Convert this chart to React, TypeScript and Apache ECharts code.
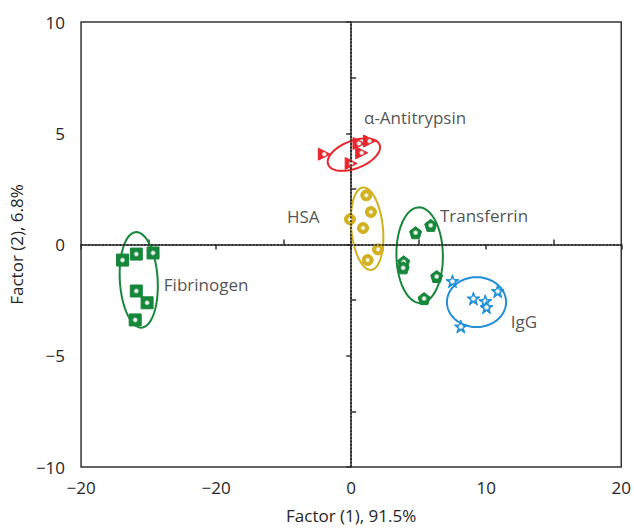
import React, { useEffect, useRef } from "react";
import * as echarts from "echarts";

// Tick labels (the original figure labels the −10 tick as "−20")
const xTickValues = [-20, -10, 0, 10, 20];
const xTickLabels = ["−20", "−20", "0", "10", "20"];
const yTickValues = [-10, -5, 0, 5, 10];
const yTickLabels = ["−10", "−5", "0", "5", "10"];
const xMinorTicks = [-15, -5, 5, 15];
const yMinorTicks = [-7.5, -2.5, 2.5, 7.5];

// Scores: [Factor 1, Factor 2]
const fibrinogen = [[-16.93, -0.7], [-15.91, -0.43], [-14.67, -0.38], [-15.91, -2.09], [-15.11, -2.62], [-15.99, -3.39]];
const antitrypsin = [[-1.99, 4.06], [0.58, 4.54], [1.36, 4.65], [0.78, 4.12], [0.0, 3.64]];
const hsa = [[1.12, 2.21], [1.46, 1.46], [-0.09, 1.13], [0.88, 0.74], [1.99, -0.22], [1.22, -0.7]];
const transferrin = [[4.77, 0.53], [5.89, 0.86], [3.89, -0.78], [3.85, -1.05], [6.33, -1.44], [5.4, -2.43]];
const igg = [[7.5, -1.65], [9.05, -2.43], [9.93, -2.55], [10.02, -2.82], [10.85, -2.1], [8.12, -3.69]];

// Confidence ellipses: [centre x, centre y, radius x, radius y, tilt in degrees]
const fibrinogenEllipse = [-15.73, -1.59, 1.4, 2.15, 3.4];
const antitrypsinEllipse = [0.2, 4.04, 2.04, 0.62, 21];
const hsaEllipse = [1.18, 0.71, 1.17, 1.86, 5.7];
const transferrinEllipse = [5.07, -0.48, 1.72, 2.15, 1];
const iggEllipse = [9.28, -2.59, 2.19, 1.12, 0];

// Group labels: [x, y, text, align]
const groupLabels: [number, number, string, string][] = [
  [0.95, 5.72, "α-Antitrypsin", "left"],
  [-2.34, 1.25, "HSA", "right"],
  [6.57, 1.32, "Transferrin", "left"],
  [-13.87, -1.82, "Fibrinogen", "left"],
  [11.82, -3.48, "IgG", "left"],
];

const GREEN = "#16873a";
const RED = "#e8262c";
const YELLOW = "#d2b01e";
const BLUE = "#1f8fd8";
const FONT = "'Open Sans', sans-serif";
const TEXT = "#262626";

const grad = (c: string) => ({
  type: "radial",
  x: 0.5,
  y: 0.5,
  r: 0.5,
  colorStops: [
    { offset: 0, color: "#ffffff" },
    { offset: 0.2, color: "#eef6ef" },
    { offset: 0.5, color: c },
    { offset: 1, color: c },
  ],
});

const PENTAGON = "path://M0,-10 L9.51,-3.09 L5.88,8.09 L-5.88,8.09 L-9.51,-3.09 Z";
const STAR =
  "path://M0,-10 L2.35,-3.24 L9.51,-3.09 L3.8,1.24 L5.88,8.09 L0,4 L-5.88,8.09 L-3.8,1.24 L-9.51,-3.09 L-2.35,-3.24 Z";

function ellipseSeries(e: number[], color: string) {
  return {
    type: "custom",
    data: [e],
    encode: { x: 0, y: 1 },
    silent: true,
    z: 1,
    renderItem: (_p: any, api: any) => {
      const c = api.coord([api.value(0), api.value(1)]);
      const s = api.size([api.value(2), api.value(3)]);
      const th = (api.value(4) * Math.PI) / 180;
      const pts: number[][] = [];
      for (let i = 0; i < 90; i++) {
        const t = (i / 90) * Math.PI * 2;
        const dx = s[0] * Math.cos(t);
        const dy = s[1] * Math.sin(t);
        pts.push([c[0] + dx * Math.cos(th) + dy * Math.sin(th), c[1] - dx * Math.sin(th) + dy * Math.cos(th)]);
      }
      return {
        type: "polygon",
        shape: { points: pts },
        style: { fill: "none", stroke: color, lineWidth: 2 },
      };
    },
  };
}

function pointSeries(name: string, data: number[][], symbol: string, size: number, color: string, rotate = 0) {
  return {
    name,
    type: "scatter",
    data,
    symbol,
    symbolSize: size,
    symbolRotate: rotate,
    z: 3,
    itemStyle: { color: grad(color), borderColor: color, borderWidth: 1, opacity: 1 },
  };
}

export default function App() {
  const ref = useRef<HTMLDivElement>(null);
  useEffect(() => {
    if (!ref.current) return;
    const chart = echarts.init(ref.current, undefined, { renderer: "svg" });
    const axisLine = { show: true, lineStyle: { color: "#333", width: 1.5 } };
    chart.setOption({
      animation: false,
      backgroundColor: "#fff",
      grid: { left: 74, right: 12, top: 22, bottom: 64, show: true, borderColor: "#333", borderWidth: 1.5 },
      xAxis: [
        {
          type: "value",
          min: -20,
          max: 20,
          interval: 10,
          position: "bottom",
          axisLine,
          axisTick: { show: true, length: 5, lineStyle: { color: "#333", width: 1.5 } },
          splitLine: { show: false },
          axisLabel: {
            margin: 12,
            color: TEXT,
            fontSize: 17,
            fontFamily: FONT,
            formatter: (v: number) => {
              const i = xTickValues.indexOf(v);
              return i >= 0 ? xTickLabels[i] : "";
            },
          },
          name: "Factor (1), 91.5%",
          nameLocation: "middle",
          nameGap: 40,
          nameTextStyle: { color: TEXT, fontSize: 17, fontFamily: FONT },
        },
        {
          type: "value",
          min: -20,
          max: 20,
          position: "bottom",
          axisLine: { show: false },
          axisTick: { show: true, inside: true, length: 5, customValues: xMinorTicks, lineStyle: { color: "#333", width: 1.5 } },
          axisLabel: { show: false },
          splitLine: { show: false },
        },
      ],
      yAxis: [
        {
          type: "value",
          min: -10,
          max: 10,
          interval: 5,
          position: "left",
          axisLine,
          axisTick: { show: true, length: 5, lineStyle: { color: "#333", width: 1.5 } },
          splitLine: { show: false },
          axisLabel: {
            margin: 16,
            color: TEXT,
            fontSize: 17,
            fontFamily: FONT,
            formatter: (v: number) => {
              const i = yTickValues.indexOf(v);
              return i >= 0 ? yTickLabels[i] : "";
            },
          },
          name: "Factor (2), 6.8%",
          nameLocation: "middle",
          nameGap: 45,
          nameTextStyle: { color: TEXT, fontSize: 17, fontFamily: FONT },
        },
        {
          type: "value",
          min: -10,
          max: 10,
          position: "left",
          axisLine: { show: false },
          axisTick: { show: true, inside: true, length: 5, customValues: yMinorTicks, lineStyle: { color: "#333", width: 1.5 } },
          axisLabel: { show: false },
          splitLine: { show: false },
        },
      ],
      series: [
        {
          type: "scatter",
          data: [],
          silent: true,
          markLine: {
            silent: true,
            symbol: "none",
            label: { show: false },
            lineStyle: { type: [2, 1.5], color: "#222", width: 1.5 },
            data: [{ xAxis: 0 }, { yAxis: 0 }],
          },
        },
        ellipseSeries(fibrinogenEllipse, GREEN),
        ellipseSeries(antitrypsinEllipse, RED),
        ellipseSeries(hsaEllipse, YELLOW),
        ellipseSeries(transferrinEllipse, GREEN),
        ellipseSeries(iggEllipse, BLUE),
        pointSeries("Fibrinogen", fibrinogen, "rect", 12, GREEN),
        pointSeries("α-Antitrypsin", antitrypsin, "triangle", 12, RED, -90),
        pointSeries("HSA", hsa, "circle", 11, YELLOW),
        pointSeries("Transferrin", transferrin, PENTAGON, 12, GREEN),
        pointSeries("IgG", igg, STAR, 13, BLUE),
        {
          type: "scatter",
          symbolSize: 0,
          silent: true,
          z: 4,
          data: groupLabels.map((l) => ({
            value: [l[0], l[1]],
            name: l[2],
            label: { align: l[3] },
          })),
          label: {
            show: true,
            position: [0, 0],
            verticalAlign: "middle",
            formatter: (p: any) => p.name,
            color: TEXT,
            fontSize: 17,
            fontFamily: FONT,
          },
        },
      ],
    });
    return () => chart.dispose();
  }, []);
  return <div ref={ref} style={{ position: "fixed", left: 0, top: 0, width: 634, height: 531 }} />;
}
